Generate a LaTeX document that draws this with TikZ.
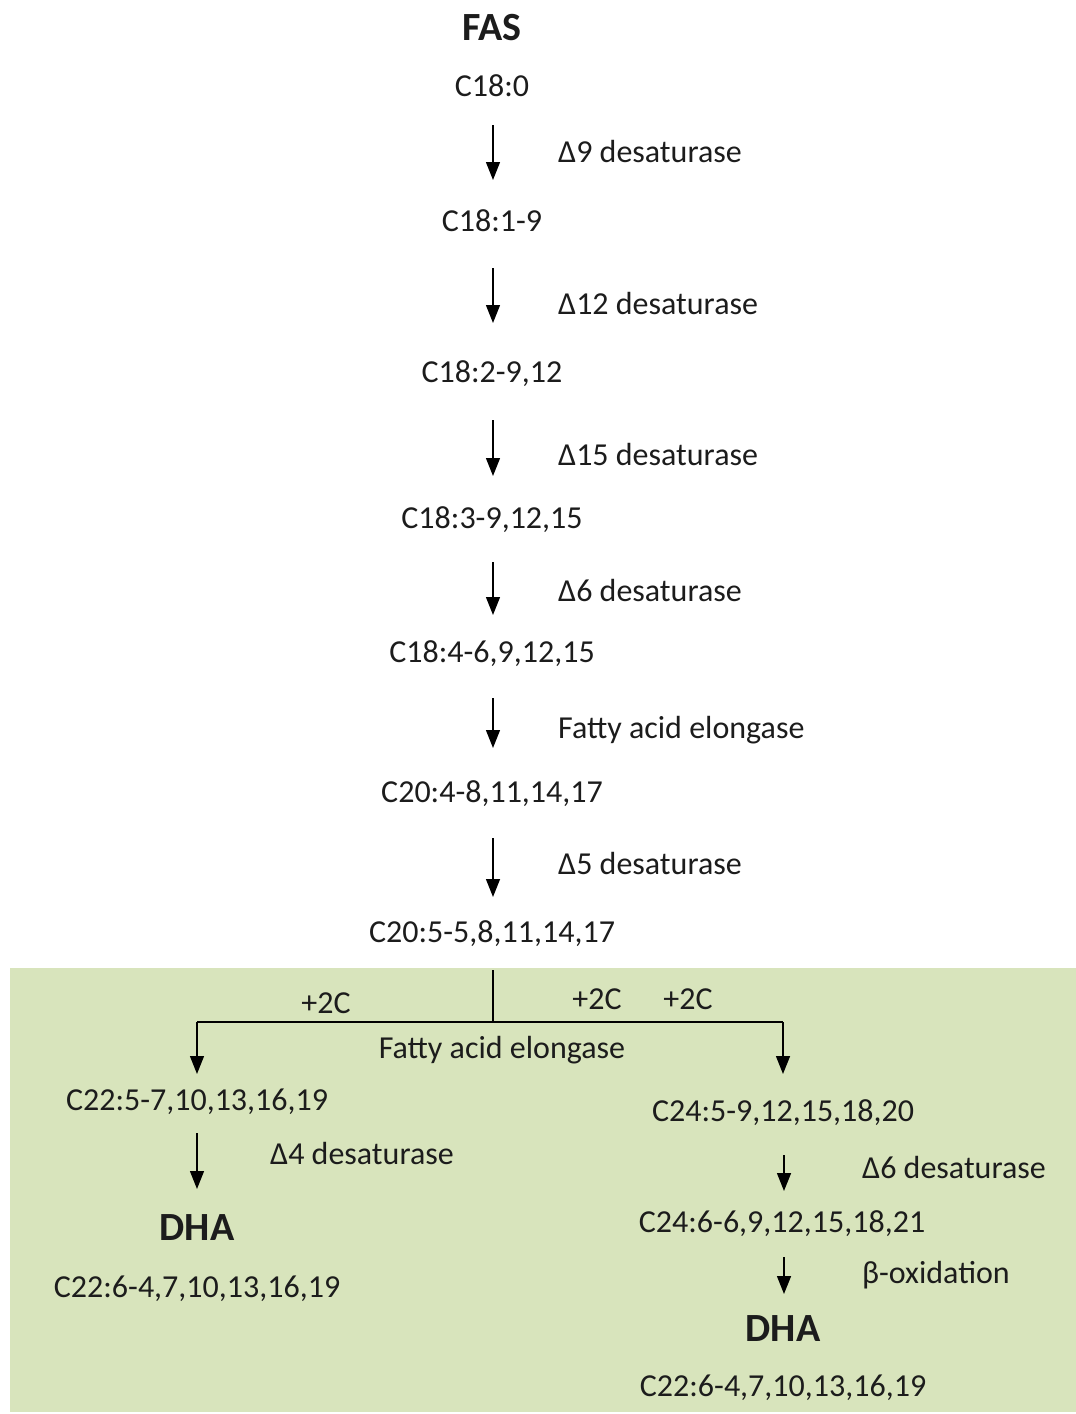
\documentclass[tikz,border=0pt]{standalone}
\usepackage{fontspec}
\setmainfont{Carlito}
\usetikzlibrary{arrows.meta}
\definecolor{boxgreen}{RGB}{216,228,188}
\definecolor{txt}{RGB}{28,28,28}
\begin{document}
\begin{tikzpicture}[x=1pt,y=-1pt,
  chem/.style={inner sep=0pt,text height=20.6pt,text depth=0pt,text=txt,font=\fontsize{32}{38}\selectfont},
  big/.style={inner sep=0pt,text height=25.8pt,text depth=0pt,text=txt,font=\fontsize{40}{46}\selectfont\bfseries},
  enz/.style={chem,anchor=west},
  rx/.style={line width=1.4pt,draw=black,-{Triangle[width=14pt,length=18pt]}},
  ln/.style={line width=1.4pt,draw=black}]
\useasboundingbox (0,0) rectangle (1076,1414);
\fill[boxgreen] (10,968) rectangle (1076,1412);

% main chain
\node[big]  (fas) at (492,28) {FAS};
\node[chem] (s0) at (492,86) {C18:0};
\node[chem] (s1) at (492,221) {C18:1-9};
\node[chem] (s2) at (492,372) {C18:2-9,12};
\node[chem] (s3) at (492,518) {C18:3-9,12,15};
\node[chem] (s4) at (492,652) {C18:4-6,9,12,15};
\node[chem] (s5) at (492,792) {C20:4-8,11,14,17};
\node[chem] (s6) at (492,932) {C20:5-5,8,11,14,17};

\node[enz] (e1) at (558,152) {Δ9 desaturase};
\node[enz] (e2) at (558,304) {Δ12 desaturase};
\node[enz] (e3) at (558,455) {Δ15 desaturase};
\node[enz] (e4) at (558,591) {Δ6 desaturase};
\node[enz] (e5) at (558,728) {Fatty acid elongase};
\node[enz] (e6) at (558,864) {Δ5 desaturase};

\foreach \i/\a/\b in {1/125/180,2/268/323,3/420/476,4/562/615,5/698/748,6/838/897}{
  \coordinate (a\i s) at (493,\a);
  \coordinate (a\i e) at (493,\b);
  \draw[rx] (a\i s) -- (a\i e);
}

% branch
\coordinate (bt) at (493,970);
\coordinate (bm) at (493,1022);
\coordinate (bl) at (197,1022);
\coordinate (br) at (783,1022);
\coordinate (blt) at (197,1074);
\coordinate (brt) at (783,1074);
\draw[ln] (bt) -- (bm);
\draw[ln] (bl) -- (br);
\draw[rx] (bl) -- (blt);
\draw[rx] (br) -- (brt);

\node[chem] (p1) at (326,1003) {+2C};
\node[chem] (p2) at (597,999) {+2C};
\node[chem] (p3) at (688,999) {+2C};
\node[chem] (fe) at (502,1048) {Fatty acid elongase};

% left branch
\node[chem] (l1) at (197,1100) {C22:5-7,10,13,16,19};
\node[enz]  (le) at (270,1154) {Δ4 desaturase};
\node[big]  (ldha) at (197,1228) {DHA};
\node[chem] (l2) at (197,1287) {C22:6-4,7,10,13,16,19};
\coordinate (la s) at (197,1133);
\coordinate (la e) at (197,1189);
\draw[rx] (la s) -- (la e);

% right branch
\node[chem] (r1) at (783,1111) {C24:5-9,12,15,18,20};
\node[enz]  (re1) at (862,1168) {Δ6 desaturase};
\node[chem] (r2) at (782,1222) {C24:6-6,9,12,15,18,21};
\node[enz]  (re2) at (862,1273) {β-oxidation};
\node[big]  (rdha) at (783,1329) {DHA};
\node[chem] (r3) at (783,1386) {C22:6-4,7,10,13,16,19};
\coordinate (ra s) at (784,1155);
\coordinate (ra e) at (784,1191);
\draw[rx] (ra s) -- (ra e);
\coordinate (rb s) at (784,1257);
\coordinate (rb e) at (784,1294);
\draw[rx] (rb s) -- (rb e);
\end{tikzpicture}
\end{document}
